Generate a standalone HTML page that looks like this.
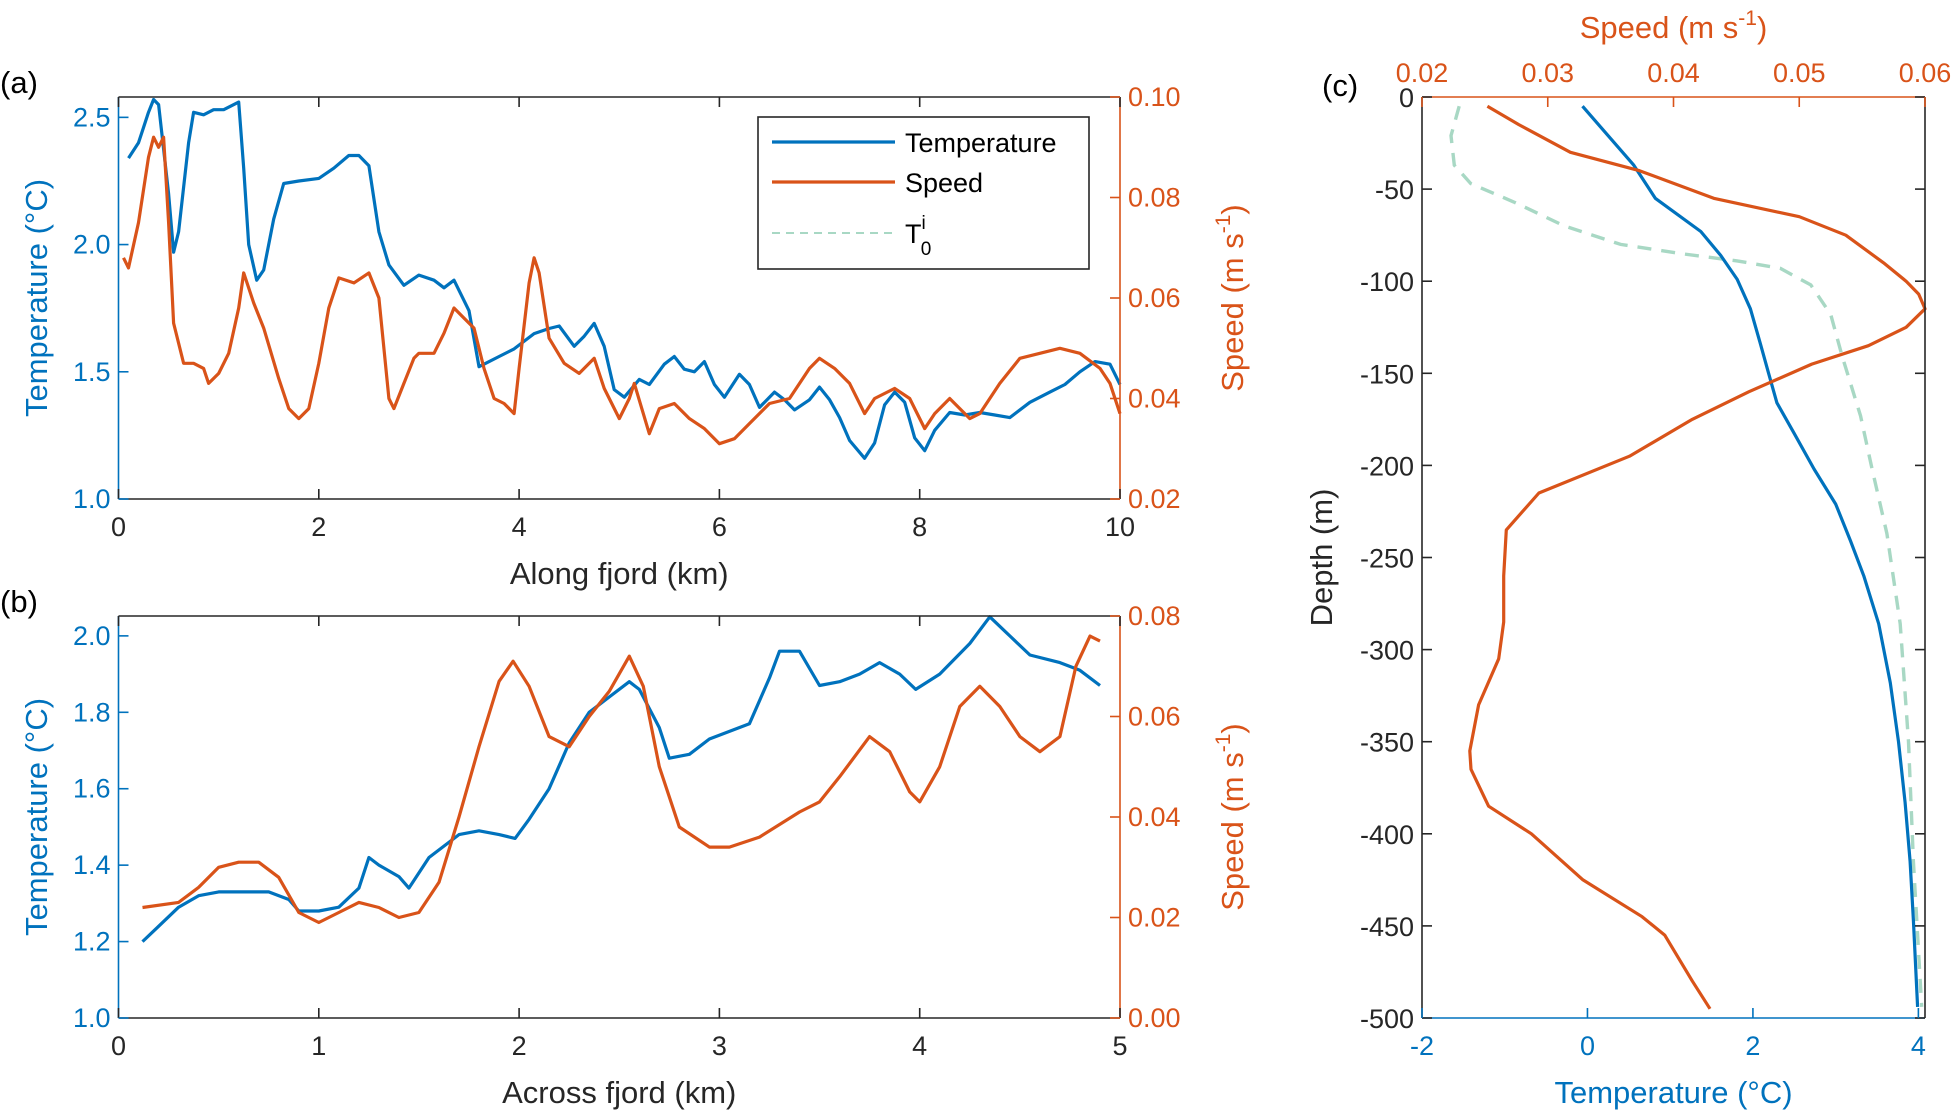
<!DOCTYPE html>
<html><head><meta charset="utf-8">
<style>
html,body{margin:0;padding:0;background:#fff;}
svg{display:block;font-family:"Liberation Sans",Arial,sans-serif;}
</style></head>
<body>
<svg id="fig" width="1956" height="1112" viewBox="0 0 1956 1112" xmlns="http://www.w3.org/2000/svg"></svg>
<script>
// ---------- Panel (a) data ----------
const aTempX = [0.1,0.2,0.3,0.35,0.4,0.5,0.55,0.6,0.7,0.75,0.85,0.95,1.05,1.2,1.25,1.3,1.38,1.45,1.55,1.65,1.8,2.0,2.15,2.3,2.4,2.5,2.6,2.7,2.85,3.0,3.15,3.25,3.35,3.5,3.6,3.65,3.8,3.95,4.15,4.3,4.4,4.55,4.65,4.75,4.85,4.95,5.05,5.2,5.3,5.45,5.55,5.65,5.75,5.85,5.95,6.05,6.2,6.3,6.4,6.55,6.65,6.75,6.9,7.0,7.1,7.2,7.3,7.45,7.55,7.65,7.75,7.85,7.95,8.05,8.15,8.3,8.45,8.6,8.75,8.9,9.1,9.3,9.45,9.6,9.75,9.9,10.0];
const aTempY = [2.34,2.4,2.52,2.57,2.55,2.2,1.97,2.05,2.4,2.52,2.51,2.53,2.53,2.56,2.3,2.0,1.86,1.9,2.1,2.24,2.25,2.26,2.3,2.35,2.35,2.31,2.05,1.92,1.84,1.88,1.86,1.83,1.86,1.74,1.52,1.53,1.56,1.59,1.65,1.67,1.68,1.6,1.64,1.69,1.6,1.43,1.4,1.47,1.45,1.53,1.56,1.51,1.5,1.54,1.45,1.4,1.49,1.45,1.36,1.42,1.39,1.35,1.39,1.44,1.39,1.32,1.23,1.16,1.22,1.37,1.42,1.38,1.24,1.19,1.27,1.34,1.33,1.34,1.33,1.32,1.38,1.42,1.45,1.5,1.54,1.53,1.45];
const aSpdX = [0.05,0.1,0.2,0.3,0.35,0.4,0.45,0.5,0.55,0.65,0.75,0.85,0.9,1.0,1.1,1.2,1.25,1.35,1.45,1.6,1.7,1.8,1.9,2.0,2.1,2.2,2.35,2.5,2.6,2.7,2.75,2.85,2.95,3.0,3.15,3.25,3.35,3.45,3.55,3.65,3.75,3.85,3.95,4.0,4.1,4.15,4.2,4.3,4.45,4.6,4.75,4.85,5.0,5.1,5.15,5.3,5.4,5.55,5.7,5.85,6.0,6.15,6.3,6.5,6.7,6.9,7.0,7.15,7.3,7.45,7.55,7.75,7.9,8.05,8.15,8.3,8.5,8.6,8.8,9.0,9.2,9.4,9.6,9.8,9.9,10.0];
const aSpdY = [0.068,0.066,0.075,0.088,0.092,0.09,0.092,0.075,0.055,0.047,0.047,0.046,0.043,0.045,0.049,0.058,0.065,0.059,0.054,0.044,0.038,0.036,0.038,0.047,0.058,0.064,0.063,0.065,0.06,0.04,0.038,0.043,0.048,0.049,0.049,0.053,0.058,0.056,0.054,0.046,0.04,0.039,0.037,0.046,0.063,0.068,0.065,0.052,0.047,0.045,0.048,0.042,0.036,0.04,0.043,0.033,0.038,0.039,0.036,0.034,0.031,0.032,0.035,0.039,0.04,0.046,0.048,0.046,0.043,0.037,0.04,0.042,0.04,0.034,0.037,0.04,0.036,0.037,0.043,0.048,0.049,0.05,0.049,0.046,0.043,0.037];
const aXTicks = [0,2,4,6,8,10];
const aTTicks = ["1.0","1.5","2.0","2.5"];
const aSTicks = ["0.02","0.04","0.06","0.08","0.10"];
// ---------- Panel (b) data ----------
const bTempX = [0.12,0.2,0.3,0.4,0.5,0.6,0.75,0.85,0.9,1.0,1.1,1.2,1.25,1.3,1.4,1.45,1.55,1.7,1.8,1.9,1.98,2.05,2.15,2.25,2.35,2.45,2.55,2.6,2.7,2.75,2.85,2.95,3.05,3.15,3.25,3.3,3.4,3.5,3.6,3.7,3.8,3.9,3.98,4.1,4.25,4.35,4.45,4.55,4.7,4.8,4.9];
const bTempY = [1.2,1.24,1.29,1.32,1.33,1.33,1.33,1.31,1.28,1.28,1.29,1.34,1.42,1.4,1.37,1.34,1.42,1.48,1.49,1.48,1.47,1.52,1.6,1.72,1.8,1.84,1.88,1.86,1.76,1.68,1.69,1.73,1.75,1.77,1.89,1.96,1.96,1.87,1.88,1.9,1.93,1.9,1.86,1.9,1.98,2.05,2.0,1.95,1.93,1.91,1.87];
const bSpdX = [0.12,0.3,0.4,0.5,0.6,0.7,0.8,0.9,1.0,1.1,1.2,1.3,1.4,1.5,1.6,1.7,1.8,1.9,1.97,2.05,2.15,2.25,2.35,2.45,2.55,2.62,2.7,2.8,2.95,3.05,3.2,3.4,3.5,3.6,3.75,3.85,3.95,4.0,4.1,4.2,4.3,4.4,4.5,4.6,4.7,4.78,4.85,4.9];
const bSpdY = [0.022,0.023,0.026,0.03,0.031,0.031,0.028,0.021,0.019,0.021,0.023,0.022,0.02,0.021,0.027,0.04,0.054,0.067,0.071,0.066,0.056,0.054,0.06,0.065,0.072,0.066,0.05,0.038,0.034,0.034,0.036,0.041,0.043,0.048,0.056,0.053,0.045,0.043,0.05,0.062,0.066,0.062,0.056,0.053,0.056,0.07,0.076,0.075];
const bXTicks = [0,1,2,3,4,5];
const bTTicks = ["1.0","1.2","1.4","1.6","1.8","2.0"];
const bSTicks = ["0.00","0.02","0.04","0.06","0.08"];
// ---------- Panel (c) data ----------
const cTempD = [-5,-37,-55,-73,-86,-99,-115,-134,-150,-166,-182,-202,-221,-241,-260,-286,-318,-350,-383,-415,-447,-494];
const cTempV = [-0.06,0.56,0.82,1.37,1.61,1.81,1.97,2.09,2.19,2.29,2.49,2.74,3.0,3.18,3.34,3.52,3.66,3.76,3.84,3.9,3.94,3.99];
const cTiD = [-5,-21,-37,-47,-57,-70,-80,-85,-89,-93,-102,-118,-141,-173,-202,-237,-286,-350,-415,-494];
const cTiV = [-1.55,-1.65,-1.61,-1.41,-0.89,-0.28,0.4,1.13,1.81,2.33,2.7,2.94,3.08,3.3,3.44,3.62,3.78,3.88,3.94,4.04];
const cSpdD = [-5,-15,-30,-40,-55,-65,-75,-90,-100,-107,-115,-125,-135,-145,-160,-175,-195,-215,-235,-260,-285,-305,-330,-355,-365,-385,-400,-425,-445,-455,-480,-495];
const cSpdV = [0.0252,0.0277,0.0318,0.0373,0.0432,0.050,0.0537,0.0567,0.0585,0.0595,0.060,0.0585,0.0555,0.051,0.046,0.0415,0.0365,0.0293,0.0267,0.0265,0.0265,0.0261,0.0245,0.0238,0.0239,0.0253,0.0287,0.0328,0.0375,0.0393,0.0415,0.0429];
const cDTicks = [0,-50,-100,-150,-200,-250,-300,-350,-400,-450,-500];
const cTTicks = [-2,0,2,4];
const cSTicks = ["0.02","0.03","0.04","0.05","0.06"];

const NS = "http://www.w3.org/2000/svg";
const svg = document.getElementById('fig');
const BLUE = "#0072BD", ORANGE = "#D95319", GREEN = "#A8D8C4";
function mk(tag, attrs, parent){ const e=document.createElementNS(NS,tag); for(const k in attrs) e.setAttribute(k,attrs[k]); (parent||svg).appendChild(e); return e; }
function txt(x,y,s,size,fill,anchor,name,parent){ const t=mk('text',{x:x,y:y,'font-size':size,fill:fill,'text-anchor':anchor||'middle'},parent); t.textContent=s;
  
  
  return t; }
function lin(d0,d1,p0,p1){ return v => p0+(v-d0)/(d1-d0)*(p1-p0); }
function pathOf(xs,ys,fx,fy){ return xs.map((x,i)=>(i?'L':'M')+fx(x).toFixed(1)+','+fy(ys[i]).toFixed(1)).join(''); }

// ---------- Panels (a) and (b) ----------
function twin(cfg){
  const g=mk('g',{});
  
  
  const L=118.5,R=1120,T=cfg.top,B=cfg.bot;
  const fx=lin(cfg.x0,cfg.x1,L,R), ft=lin(cfg.t0,cfg.t1,B,T), fs=lin(cfg.s0,cfg.s1,B,T);
  const ts=mk('path',{d:pathOf(cfg.tx,cfg.ty,fx,ft),fill:'none',stroke:BLUE,'stroke-width':3.2,'stroke-linejoin':'round'},g);
  
  
  const ss=mk('path',{d:pathOf(cfg.sx,cfg.sy,fx,fs),fill:'none',stroke:ORANGE,'stroke-width':3.2,'stroke-linejoin':'round'},g);
  
  
  mk('line',{x1:L,y1:T,x2:R,y2:T,stroke:'#262626','stroke-width':1.6},g);
  mk('line',{x1:L,y1:B,x2:R,y2:B,stroke:'#262626','stroke-width':1.6},g);
  mk('line',{x1:L,y1:T,x2:L,y2:B,stroke:BLUE,'stroke-width':1.6},g);
  mk('line',{x1:R,y1:T,x2:R,y2:B,stroke:ORANGE,'stroke-width':1.6},g);
  cfg.xt.forEach(v=>{ const x=fx(v);
    mk('line',{x1:x,y1:B,x2:x,y2:B-10,stroke:'#262626','stroke-width':1.6},g);
    mk('line',{x1:x,y1:T,x2:x,y2:T+10,stroke:'#262626','stroke-width':1.6},g);
    txt(x,B+37,String(v),27,'#262626','middle','x-tick-label',g); });
  cfg.tt.forEach(s=>{ const y=ft(parseFloat(s));
    mk('line',{x1:L,y1:y,x2:L+10,y2:y,stroke:BLUE,'stroke-width':1.6},g);
    txt(L-8,y+9,s,27,BLUE,'end','temp-tick-label',g); });
  cfg.st.forEach(s=>{ const y=fs(parseFloat(s));
    mk('line',{x1:R,y1:y,x2:R-10,y2:y,stroke:ORANGE,'stroke-width':1.6},g);
    txt(R+8,y+9,s,27,ORANGE,'start','speed-tick-label',g); });
  txt((L+R)/2,B+85,cfg.xlabel,31,'#262626','middle','x-axis-title',g);
  const yl=txt(0,0,'Temperature (°C)',31,BLUE,'middle','temp-axis-title',g);
  yl.setAttribute('transform','translate(47,'+((T+B)/2)+') rotate(-90)');
  const sl=mk('text',{'font-size':31,fill:ORANGE,'text-anchor':'middle',transform:'translate(1243,'+((T+B)/2)+') rotate(-90)'},g);
  
  
  sl.innerHTML='Speed (m s<tspan font-size="21" dy="-13">-1</tspan><tspan dy="13">)</tspan>';
  txt(0,cfg.lblY,cfg.label,31,'#000','start','panel-label',g);
}
twin({name:'panel-a',top:97,bot:499,x0:0,x1:10,t0:1.0,t1:2.58,s0:0.02,s1:0.10,tx:aTempX,ty:aTempY,sx:aSpdX,sy:aSpdY,xt:aXTicks,tt:aTTicks,st:aSTicks,xlabel:'Along fjord (km)',label:'(a)',lblY:93});
twin({name:'panel-b',top:616,bot:1018,x0:0,x1:5,t0:1.0,t1:2.052,s0:0,s1:0.08,tx:bTempX,ty:bTempY,sx:bSpdX,sy:bSpdY,xt:bXTicks,tt:bTTicks,st:bSTicks,xlabel:'Across fjord (km)',label:'(b)',lblY:612});

// legend
const lg=mk('g',{});


mk('rect',{x:758,y:117,width:331,height:152,fill:'#fff',stroke:'#262626','stroke-width':1.6},lg);
mk('line',{x1:772,y1:142,x2:895,y2:142,stroke:BLUE,'stroke-width':3.2},lg);
mk('line',{x1:772,y1:182,x2:895,y2:182,stroke:ORANGE,'stroke-width':3.2},lg);
mk('line',{x1:772,y1:233,x2:895,y2:233,stroke:GREEN,'stroke-width':2,'stroke-dasharray':'8,6'},lg);
txt(905,152,'Temperature',27,'#000','start','legend-entry-temperature',lg);
txt(905,192,'Speed',27,'#000','start','legend-entry-speed',lg);
const ti=mk('text',{x:905,y:243,'font-size':27,fill:'#000'},lg);


ti.innerHTML='T<tspan font-size="19" dy="-14">i</tspan><tspan font-size="19" dx="-5" dy="26">0</tspan>';

// ---------- Panel (c) ----------
(function(){
  const g=mk('g',{});
  
  
  const L=1422,R=1925,T=97,B=1018;
  const fd=lin(0,-500,T,B), ft=lin(-2,4.08,L,R), fs=lin(0.02,0.06,L,R);
  const gl=mk('path',{d:pathOf(cTiV,cTiD,ft,fd),fill:'none',stroke:GREEN,'stroke-width':3.4,'stroke-dasharray':'14,10'},g);
  
  
  const tl=mk('path',{d:pathOf(cTempV,cTempD,ft,fd),fill:'none',stroke:BLUE,'stroke-width':3.2,'stroke-linejoin':'round'},g);
  
  
  const sl=mk('path',{d:pathOf(cSpdV,cSpdD,fs,fd),fill:'none',stroke:ORANGE,'stroke-width':3.2,'stroke-linejoin':'round'},g);
  
  
  mk('line',{x1:L,y1:T,x2:R,y2:T,stroke:ORANGE,'stroke-width':1.6},g);
  mk('line',{x1:L,y1:B,x2:R,y2:B,stroke:BLUE,'stroke-width':1.6},g);
  mk('line',{x1:L,y1:T,x2:L,y2:B,stroke:'#262626','stroke-width':1.6},g);
  mk('line',{x1:R,y1:T,x2:R,y2:B,stroke:'#262626','stroke-width':1.6},g);
  cDTicks.forEach(v=>{ const y=fd(v);
    mk('line',{x1:L,y1:y,x2:L+10,y2:y,stroke:'#262626','stroke-width':1.6},g);
    mk('line',{x1:R,y1:y,x2:R-10,y2:y,stroke:'#262626','stroke-width':1.6},g);
    txt(L-8,y+10,String(v),27,'#262626','end','depth-tick-label',g); });
  cTTicks.forEach(v=>{ const x=ft(v);
    mk('line',{x1:x,y1:B,x2:x,y2:B-10,stroke:BLUE,'stroke-width':1.6},g);
    txt(x,B+37,String(v),27,BLUE,'middle','temp-tick-label',g); });
  cSTicks.forEach(s=>{ const x=fs(parseFloat(s));
    mk('line',{x1:x,y1:T,x2:x,y2:T+10,stroke:ORANGE,'stroke-width':1.6},g);
    txt(x,T-15,s,27,ORANGE,'middle','speed-tick-label',g); });
  txt((L+R)/2,1103,'Temperature (°C)',31,BLUE,'middle','x-axis-title-bottom',g);
  const st=mk('text',{x:(L+R)/2,y:38,'font-size':31,fill:ORANGE,'text-anchor':'middle'},g);
  
  
  st.innerHTML='Speed (m s<tspan font-size="21" dy="-13">-1</tspan><tspan dy="13">)</tspan>';
  const dl=txt(0,0,'Depth (m)',31,'#262626','middle','depth-axis-title',g);
  dl.setAttribute('transform','translate(1332,'+((T+B)/2)+') rotate(-90)');
  txt(1322,96,'(c)',31,'#000','start','panel-label',g);
})();
</script>
</body></html>
